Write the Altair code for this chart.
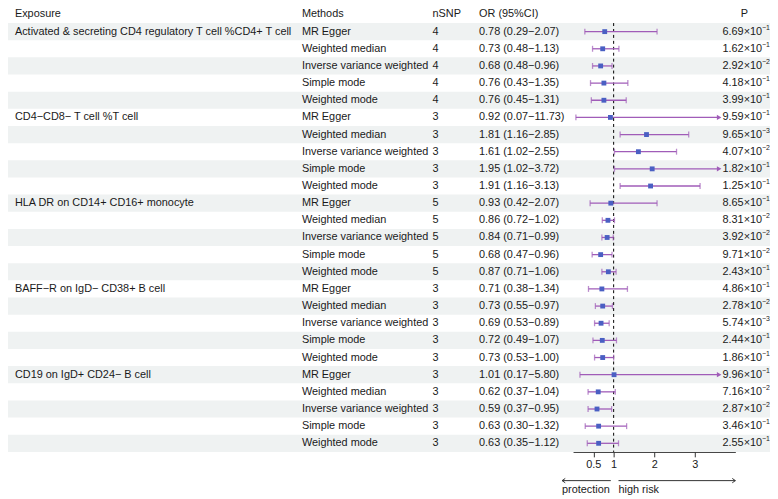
import altair as alt
import pandas as pd

# ---------------- data ----------------
exposures = [
    "Activated & secreting CD4 regulatory T cell %CD4+ T cell",
    "CD4\u2212CD8\u2212 T cell %T cell",
    "HLA DR on CD14+ CD16+ monocyte",
    "BAFF\u2212R on IgD\u2212 CD38+ B cell",
    "CD19 on IgD+ CD24\u2212 B cell",
]
methods = ["MR Egger", "Weighted median", "Inverse variance weighted",
           "Simple mode", "Weighted mode"]
nsnp = [4, 3, 5, 3, 3]

or_vals = [0.78, 0.73, 0.68, 0.76, 0.76,
           0.92, 1.81, 1.61, 1.95, 1.91,
           0.93, 0.86, 0.84, 0.68, 0.87,
           0.71, 0.73, 0.69, 0.72, 0.73,
           1.01, 0.62, 0.59, 0.63, 0.63]
lo_vals = [0.29, 0.48, 0.48, 0.43, 0.45,
           0.07, 1.16, 1.02, 1.02, 1.16,
           0.42, 0.72, 0.71, 0.47, 0.71,
           0.38, 0.55, 0.53, 0.49, 0.53,
           0.17, 0.37, 0.37, 0.30, 0.35]
hi_vals = [2.07, 1.13, 0.96, 1.35, 1.31,
           11.73, 2.85, 2.55, 3.72, 3.13,
           2.07, 1.02, 0.99, 0.96, 1.06,
           1.34, 0.97, 0.89, 1.07, 1.00,
           5.80, 1.04, 0.95, 1.32, 1.12]
p_mant = [6.69, 1.62, 2.92, 4.18, 3.99,
          9.59, 9.65, 4.07, 1.82, 1.25,
          8.65, 8.31, 3.92, 9.71, 2.43,
          4.86, 2.78, 5.74, 2.44, 1.86,
          9.96, 7.16, 2.87, 3.46, 2.55]
p_exp = [-1, -1, -2, -1, -1,
         -1, -3, -2, -1, -1,
         -1, -2, -2, -2, -1,
         -1, -2, -3, -1, -1,
         -1, -2, -2, -1, -1]
headers = ["Exposure", "Methods", "nSNP", "OR (95%CI)", "P"]
axis_ticks = [0.5, 1, 2, 3]
XMAX = 3.6  # CI lines beyond this are drawn as arrows

# ---------------- table ----------------
rows = []
for i in range(25):
    g, m = divmod(i, 5)
    hi = hi_vals[i]
    rows.append({
        "row": i,
        "r0": i - 0.5,
        "r1": i + 0.5,
        "stripe": i % 2 == 0,
        "exposure": exposures[g] if m == 0 else "",
        "method": methods[m],
        "nsnp": str(nsnp[g]),
        "ortext": f"{or_vals[i]:.2f} ({lo_vals[i]:.2f}\u2212{hi_vals[i]:.2f})",
        "pm": f"{p_mant[i]:.2f}\u00d710",
        "pe": "\u2212" + str(abs(p_exp[i])),
        "or": or_vals[i],
        "lo": lo_vals[i],
        "hi_c": min(hi, XMAX),
        "clipped": hi > XMAX,
    })
df = pd.DataFrame(rows)
hdr = pd.DataFrame({"row": [-1]})

FONT = "Liberation Sans"
FS = 11
TXT = "#1a1a1a"
LINE = "#a05cb8"
PT = "#4a5fc3"

yscale = alt.Scale(domain=[0, 24], range=[21.3, 437.3])
Y = alt.Y("row:Q", scale=yscale, axis=None)
xscale = alt.Scale(domain=[0, 4], range=[571, 735])
AX = alt.Axis(values=axis_ticks, title=None, grid=False, offset=-45,
              labelFont=FONT, labelFontSize=FS, labelColor=TXT,
              domainColor="#333333", tickColor="#333333", tickSize=5,
              labelPadding=2, format="~g")

base = alt.Chart(df)

stripes = base.transform_filter("datum.stripe").mark_rect(color="#eff2f2").encode(
    x=alt.value(0), x2=alt.value(770),
    y=alt.Y("r0:Q", scale=yscale, axis=None), y2="r1:Q")


def col(field, xpos, header):
    t = base.mark_text(align="left", baseline="middle", font=FONT,
                       fontSize=FS, color=TXT).encode(
        x=alt.value(xpos), y=Y, text=f"{field}:N")
    h = alt.Chart(hdr).mark_text(align="left", baseline="middle", font=FONT,
                                 fontSize=FS, color=TXT).encode(
        x=alt.value(xpos), y=Y, text=alt.value(header))
    return t + h


c_exp = col("exposure", 7, headers[0])
c_met = col("method", 297, headers[1])
c_n = col("nsnp", 429, headers[2])
c_or = col("ortext", 476, headers[3])
c_p = base.mark_text(align="left", baseline="middle", font=FONT,
                     fontSize=FS, color=TXT).encode(
    x=alt.value(722), y=Y, text="pm:N")
c_pe = base.mark_text(align="left", baseline="middle", font=FONT,
                      fontSize=7, color=TXT, dy=-4).encode(
    x=alt.value(762), y=Y, text="pe:N")
c_ph = alt.Chart(hdr).mark_text(align="center", baseline="middle", font=FONT,
                                fontSize=FS, color=TXT).encode(
    x=alt.value(744), y=Y, text=alt.value(headers[4]))

ref = alt.Chart(pd.DataFrame({"ref": [1], "top": [-0.5]})).mark_rule(
    color="black", strokeDash=[3, 3], strokeWidth=1).encode(
    x=alt.X("ref:Q", scale=xscale, axis=AX),
    y=alt.Y("top:Q", scale=yscale, axis=None), y2=alt.value(446))

ci = base.mark_rule(color=LINE, strokeWidth=1.3).encode(
    x=alt.X("lo:Q", scale=xscale, axis=AX), x2="hi_c:Q", y=Y)
cap_lo = base.mark_tick(color=LINE, orient="vertical", size=6, thickness=1.3).encode(
    x=alt.X("lo:Q", scale=xscale, axis=AX), y=Y)
cap_hi = base.transform_filter("!datum.clipped").mark_tick(
    color=LINE, orient="vertical", size=6, thickness=1.3).encode(
    x=alt.X("hi_c:Q", scale=xscale, axis=AX), y=Y)
arrow = base.transform_filter("datum.clipped").mark_point(
    shape="triangle-right", filled=True, color=LINE, size=28, opacity=1).encode(
    x=alt.X("hi_c:Q", scale=xscale, axis=AX), y=Y)
pts = base.mark_square(color=PT, size=24, opacity=1).encode(
    x=alt.X("or:Q", scale=xscale, axis=AX), y=Y)

# direction arrows under the axis
dir_df = pd.DataFrame({"x0": [0.93, 1.12], "x1": [-0.27, 4.0],
                       "lab": ["protection", "high risk"]})
dir_line = alt.Chart(dir_df).mark_rule(color="#333333", strokeWidth=1).encode(
    x=alt.X("x0:Q", scale=xscale, axis=AX), x2="x1:Q", y=alt.value(475))
dir_head_l = alt.Chart(dir_df.iloc[[0]]).mark_point(
    shape="M 1 -0.7 L 0 0 L 1 0.7", filled=False, color="#333333", size=40,
    strokeWidth=1, opacity=1).encode(
    x=alt.X("x1:Q", scale=xscale, axis=AX), y=alt.value(475))
dir_head_r = alt.Chart(dir_df.iloc[[1]]).mark_point(
    shape="M -1 -0.7 L 0 0 L -1 0.7", filled=False, color="#333333", size=40,
    strokeWidth=1, opacity=1).encode(
    x=alt.X("x1:Q", scale=xscale, axis=AX), y=alt.value(475))
dir_txt_l = alt.Chart(dir_df.iloc[[0]]).mark_text(
    align="right", baseline="middle", font=FONT, fontSize=FS, color=TXT, dx=-1).encode(
    x=alt.X("x0:Q", scale=xscale, axis=AX), y=alt.value(485), text="lab:N")
dir_txt_r = alt.Chart(dir_df.iloc[[1]]).mark_text(
    align="left", baseline="middle", font=FONT, fontSize=FS, color=TXT).encode(
    x=alt.X("x0:Q", scale=xscale, axis=AX), y=alt.value(485), text="lab:N")

chart = alt.layer(
    stripes, c_exp, c_met, c_n, c_or, c_p, c_pe, c_ph,
    ref, ci, cap_lo, cap_hi, arrow, pts,
    dir_line, dir_head_l, dir_head_r, dir_txt_l, dir_txt_r,
).properties(
    width=770, height=491, autosize="none", padding=0, background="white"
).configure_view(stroke=None)

chart.save("out.html", embed_options={"renderer": "svg", "actions": False})
